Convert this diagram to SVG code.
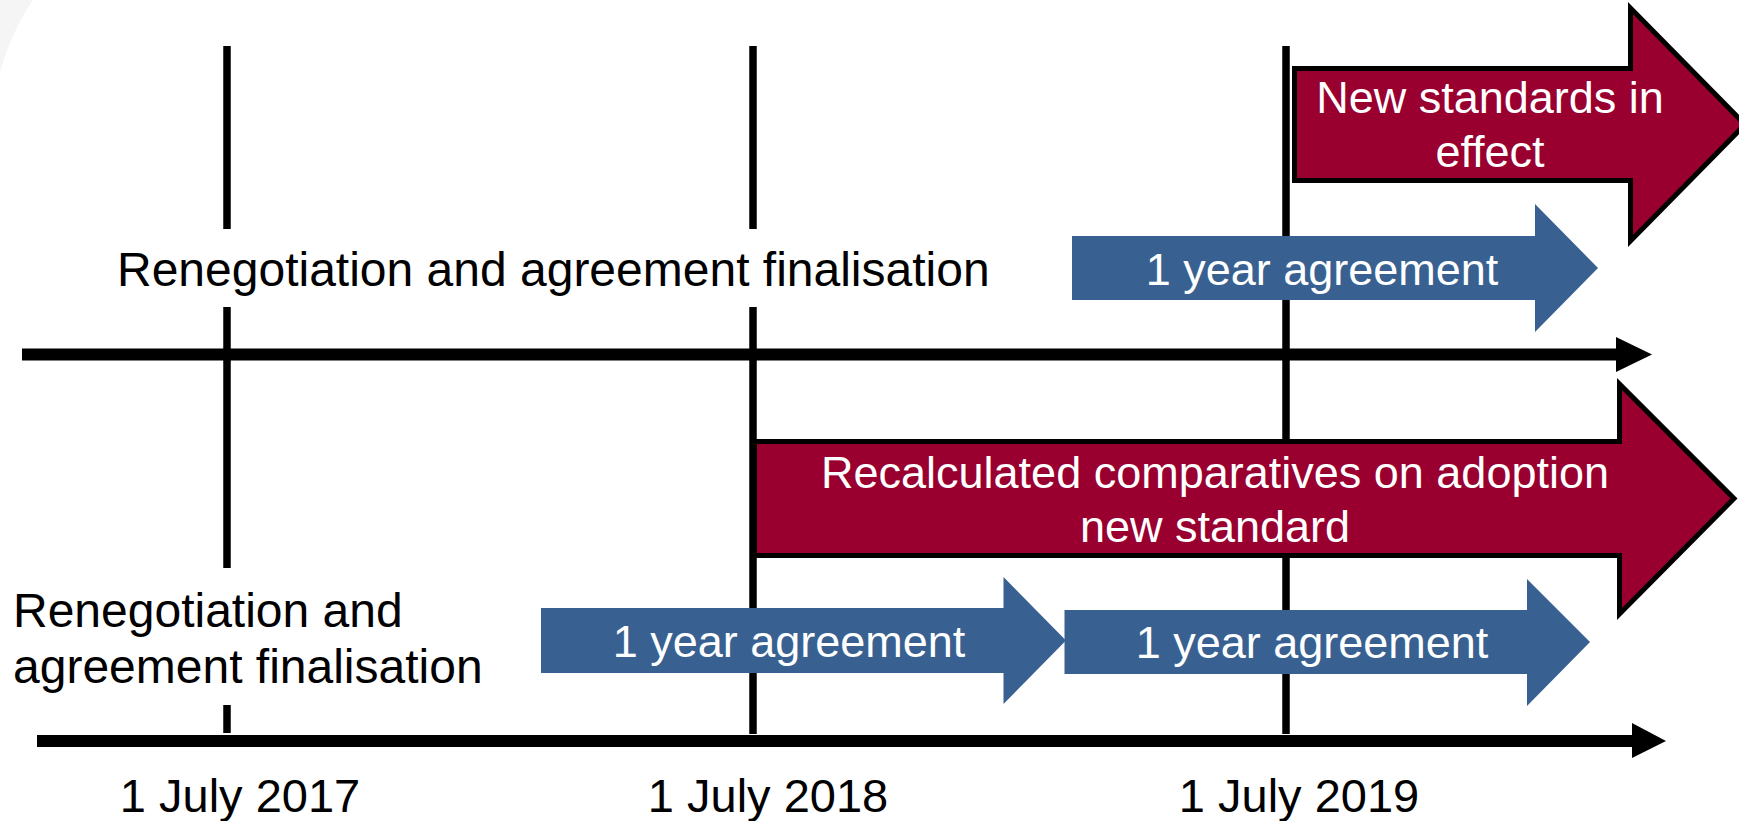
<svg xmlns="http://www.w3.org/2000/svg" width="1739" height="821" viewBox="0 0 1739 821">
<style>
.vl{stroke:#000;stroke-width:7.5;fill:none}
.axis{stroke:#000;stroke-width:12;fill:none}
.head{fill:#000}
.red{fill:#990030;stroke:#000;stroke-width:5;stroke-linejoin:miter;stroke-miterlimit:10}
.blue{fill:#386192}
.wt{font-family:"Liberation Sans",Arial,sans-serif;font-size:45px;fill:#fff;text-anchor:middle}
.bt{font-family:"Liberation Sans",Arial,sans-serif;font-size:48px;fill:#000}
.dt{font-family:"Liberation Sans",Arial,sans-serif;font-size:47px;fill:#000;text-anchor:middle}
</style>
<rect width="1739" height="821" fill="#fff"/>
<path d="M0,0 H33 Q12,30 0,72 Z" fill="#f5f5f5"/>
<g id="connectors">
<line class="vl" x1="227" y1="46" x2="227" y2="229"/>
<line class="vl" x1="227" y1="307" x2="227" y2="568"/>
<line class="vl" x1="227" y1="705" x2="227" y2="733"/>
<line class="vl" x1="753" y1="46" x2="753" y2="229"/>
<line class="vl" x1="753" y1="307" x2="753" y2="734"/>
<line class="vl" x1="1286" y1="46" x2="1286" y2="734"/>
<line class="axis" x1="22" y1="354.5" x2="1618" y2="354.5"/>
<polygon class="head" points="1616,337 1652,354.5 1616,372"/>
<line class="axis" x1="37" y1="741" x2="1634" y2="741"/>
<polygon class="head" points="1632,723 1666,741 1632,758"/>
</g>
<g id="new-standards">
<path class="red" d="M1294.5,68.5 H1630.5 V8 L1745,124.5 L1630.5,241 V180.5 H1294.5 Z"/>
<text class="wt" x="1490" y="113">New standards in</text>
<text class="wt" x="1490" y="167">effect</text>
</g>
<g id="recalculated">
<path class="red" d="M754.5,441.5 H1619.5 V384 L1734,498.5 L1619.5,614 V555.5 H754.5 Z"/>
<text class="wt" x="1215" y="488">Recalculated comparatives on adoption</text>
<text class="wt" x="1215" y="542">new standard</text>
</g>
<g id="agreement-top">
<polygon class="blue" points="1072,236 1535,236 1535,204 1598,268 1535,332 1535,300 1072,300"/>
<text class="wt" x="1322" y="285">1 year agreement</text>
</g>
<g id="agreement-bottom-1">
<polygon class="blue" points="541,608 1003.5,608 1003.5,577 1066,640.5 1003.5,704 1003.5,673 541,673"/>
<text class="wt" x="789" y="657">1 year agreement</text>
</g>
<g id="agreement-bottom-2">
<polygon class="blue" points="1064.5,610 1527,610 1527,579 1590,642 1527,706 1527,674 1064.5,674"/>
<text class="wt" x="1312" y="658">1 year agreement</text>
</g>
<g id="label-top">
<text class="bt" x="117" y="286">Renegotiation and agreement finalisation</text>
</g>
<g id="label-bottom">
<text class="bt" x="13" y="627">Renegotiation and</text>
<text class="bt" x="13" y="683">agreement finalisation</text>
</g>
<g id="dates">
<text class="dt" x="240" y="812">1 July 2017</text>
<text class="dt" x="768" y="812">1 July 2018</text>
<text class="dt" x="1299" y="812">1 July 2019</text>
</g>
</svg>
